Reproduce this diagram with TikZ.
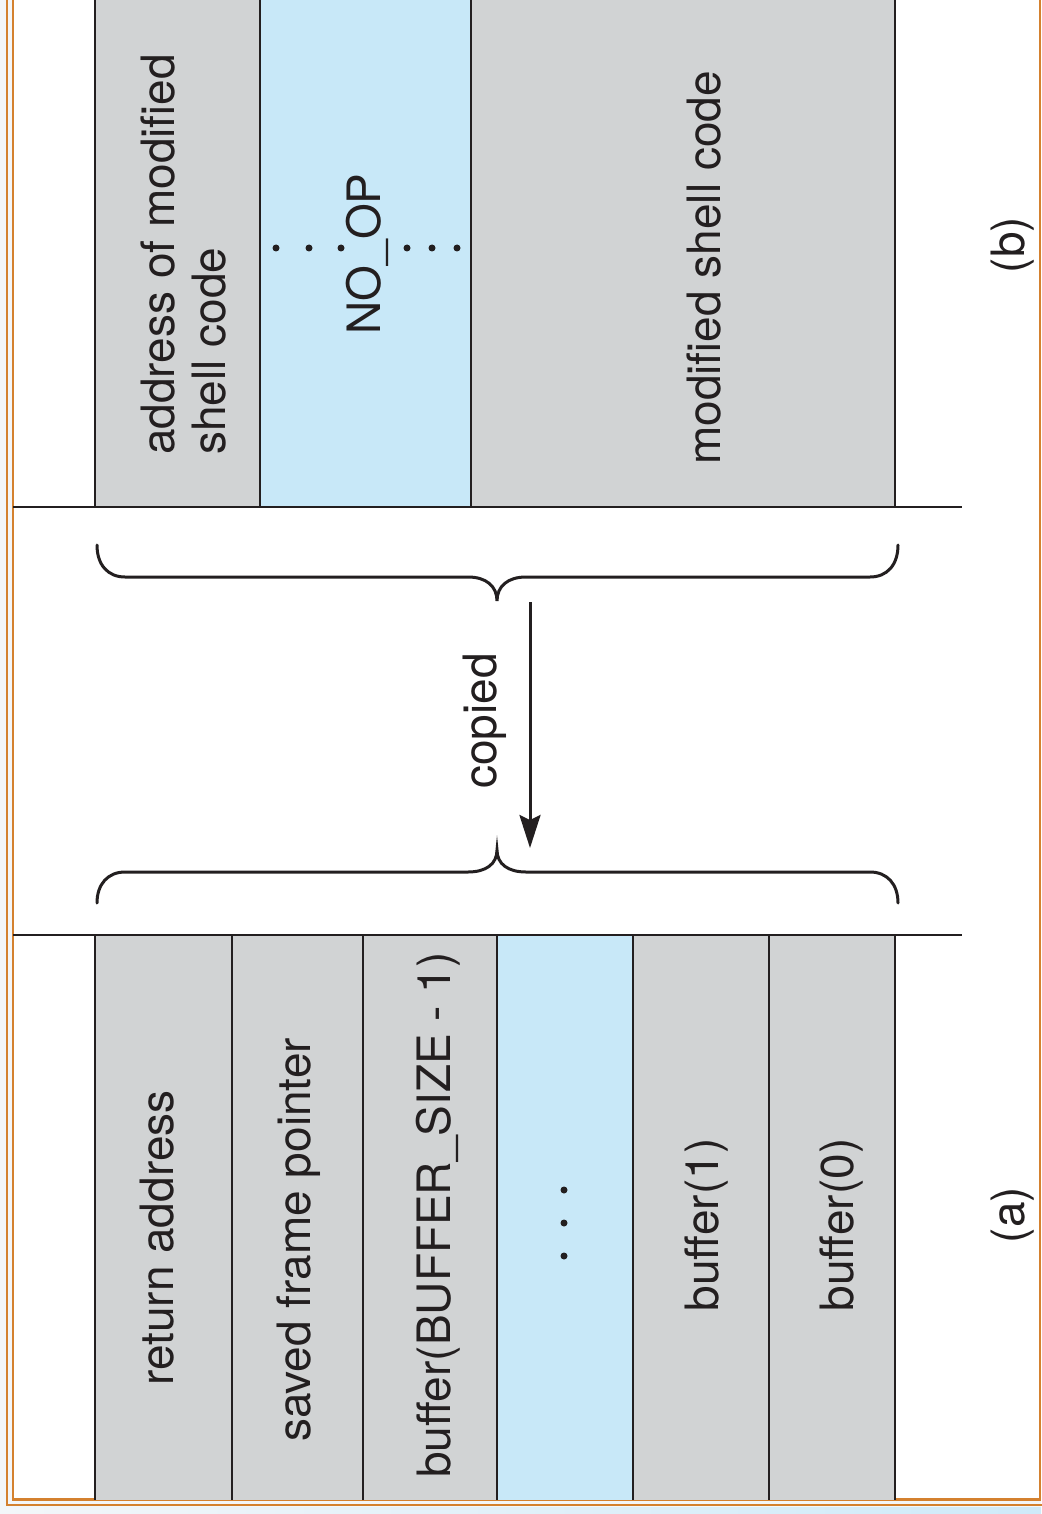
\documentclass[tikz,border=0pt]{standalone}
\usepackage{fontspec}
\setmainfont{TeX Gyre Heros}
\usetikzlibrary{arrows.meta}

\definecolor{ink}{HTML}{231F20}
\definecolor{cellgray}{HTML}{D1D3D4}
\definecolor{cellblue}{HTML}{C8E8F8}
\definecolor{frameorange}{HTML}{D4812F}
\definecolor{pagebg}{HTML}{F3F6F9}
\definecolor{stripblue}{HTML}{CFEAF9}

\tikzset{
  graycell/.style={fill=cellgray},
  bluecell/.style={fill=cellblue},
  rule/.style={draw=ink, line width=2.8pt},
  bracepath/.style={draw=ink, line width=3pt, line cap=round},
  lbl/.style={font=\fontsize{46}{51}\selectfont, text=ink, inner sep=0pt, rotate=90, anchor=base},
  dotmark/.style={circle, fill=ink, inner sep=0pt, minimum size=7pt},
  frameline/.style={draw=frameorange, line width=2.3pt},
}

\begin{document}
\begin{tikzpicture}[x=1pt, y=-1pt]
  \useasboundingbox (0,0) rectangle (1041,1514);

  % page background and double orange frame
  \fill[pagebg] (0,0) rectangle (1041,1514);
  \shade[left color=pagebg, right color=stripblue] (0,1507) rectangle (1041,1514);
  \fill[white] (13,0) rectangle (1040,1499.5);
  \draw[frameline] (7,0) -- (7,1505) -- (1045,1505);
  \draw[frameline] (13,0) -- (13,1499.5) -- (1040,1499.5) -- (1040,0);

  % (b): stack after the copy
  \fill[graycell] (95,0) rectangle (260,507);
  \fill[bluecell] (260,0) rectangle (471,507);
  \fill[graycell] (471,0) rectangle (895,507);
  \foreach \x in {95,260,471,895} \draw[rule] (\x,0) -- (\x,507);
  \draw[rule] (13,507) -- (962,507);

  \node[lbl, anchor=south west, align=left] (addr) at (226,455)
    {address of modified\\shell code};
  \node[lbl] (noop) at (380,254) {NO\_OP};
  \foreach \x [count=\i] in {276,309,341,407,432,457}
    \node[dotmark] (nd\i) at (\x,248) {};
  \node[lbl] (shell) at (720,268) {modified shell code};
  \node[lbl] (labb) at (1024,245) {(b)};

  % (a): original stack frame
  \fill[graycell] (95,935) rectangle (497,1499.5);
  \fill[bluecell] (497,935) rectangle (633,1499.5);
  \fill[graycell] (633,935) rectangle (895,1499.5);
  \foreach \x in {95,232,363,497,633,769,895} \draw[rule] (\x,935) -- (\x,1499.5);
  \draw[rule] (13,935) -- (962,935);

  \node[lbl] (ret) at (173,1238) {return address};
  \node[lbl] (sfp) at (310,1240) {saved frame pointer};
  \node[lbl] (bmax) at (450,1215) {buffer(BUFFER\_SIZE - 1)};
  \foreach \y [count=\i] in {1190,1223,1256}
    \node[dotmark] (ad\i) at (564,\y) {};
  \node[lbl] (b1) at (718,1225) {buffer(1)};
  \node[lbl] (b0) at (853,1225) {buffer(0)};
  \node[lbl] (laba) at (1024,1215) {(a)};

  % braces and the copy arrow
  \coordinate (tipb) at (497,601);
  \coordinate (tipa) at (497,850);
  \draw[bracepath] (97,545) .. controls (97,565) and (108,577) .. (125,577)
    -- (468,577) .. controls (486,577) and (497,586) .. (tipb)
    .. controls (497,586) and (508,577) .. (526,577)
    -- (870,577) .. controls (887,577) and (898,565) .. (898,545);
  \draw[bracepath] (97,903) .. controls (97,884) and (108,872) .. (125,872)
    -- (468,872) .. controls (486,872) and (497,864) .. (tipa)
    .. controls (497,864) and (508,872) .. (526,872)
    -- (870,872) .. controls (887,872) and (898,884) .. (898,903);

  \coordinate (arrs) at (530,602);
  \coordinate (arre) at (530,848);
  \draw[draw=ink, line width=3pt, -{Stealth[length=33pt, width=21pt, inset=5pt]}] (arrs) -- (arre);
  \node[lbl] (copied) at (496,721) {copied};
\end{tikzpicture}
\end{document}
